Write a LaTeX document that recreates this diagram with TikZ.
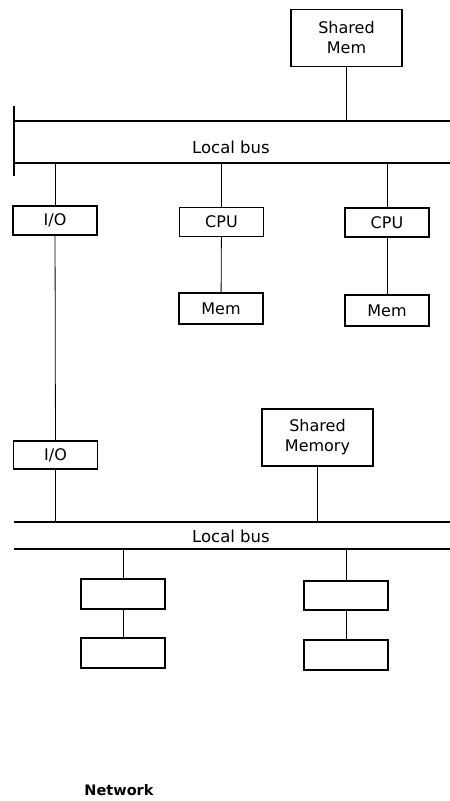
\documentclass[tikz,border=0pt]{standalone}
\usepackage{fontspec}
\setmainfont{DejaVu Sans}
\usetikzlibrary{positioning}

\tikzset{
  unit/.style={draw, line width=1.2pt, inner sep=0pt, minimum width=84pt,
    minimum height=29pt, align=center, font=\fontsize{16}{20}\selectfont},
  bigunit/.style={unit, minimum width=111pt, minimum height=57pt},
  busline/.style={line width=1.3pt},
  link/.style={line width=0.8pt}
}

\begin{document}
\begin{tikzpicture}[x=1pt,y=-1pt]
\useasboundingbox (0,0) rectangle (450,801);

% upper bus
\coordinate (busAt) at (14,121);
\coordinate (busAb) at (14,163);
\draw[busline] (busAt) -- (450,121);
\draw[busline] (busAb) -- (450,163);
\draw[busline] (14,106) -- (14,176);
\node[font=\fontsize{16.5}{18}\selectfont] (busAlbl) at (231,147) {Local bus};

\node[bigunit] (smtop) at (346.5,38) {Shared\\Mem};
\node[unit] (ioA) at (55,220.5) {I/O};
\node[unit] (cpuA) at (221.5,222) {CPU};
\node[unit] (cpuB) at (387,222.5) {CPU};
\node[unit, minimum height=31pt] (memA) at (221,308.5) {Mem};
\node[unit, minimum height=31pt] (memB) at (387,310.5) {Mem};

\draw[link] (smtop.south) -- (smtop.south |- busAt);
\draw[link] (busAb -| ioA) -- (ioA.north);
\draw[link] (busAb -| cpuA) -- (cpuA.north);
\draw[link] (busAb -| cpuB) -- (cpuB.north);
\draw[link] (cpuA) -- (memA);
\draw[link] (cpuB) -- (memB);

% lower bus
\coordinate (busBt) at (14,522);
\coordinate (busBb) at (14,549);
\draw[busline] (busBt) -- (450,522);
\draw[busline] (busBb) -- (450,549);
\node[font=\fontsize{16.5}{18}\selectfont] (busBlbl) at (231,536) {Local bus};

\node[unit, minimum height=28pt] (ioB) at (55.5,455) {I/O};
\node[bigunit] (smlow) at (317.5,437.5) {Shared\\Memory};
\node[unit, minimum height=30pt] (boxA) at (123,594) {};
\node[unit, minimum height=30pt] (boxB) at (123,653) {};
\node[unit] (boxC) at (346,595.5) {};
\node[unit, minimum height=30pt] (boxD) at (346,655) {};

\draw[link] (ioA) -- (ioB);
\draw[link] (ioB.south) -- (ioB.south |- busBt);
\draw[link] (smlow.south) -- (smlow.south |- busBt);
\draw[link] (busBb -| boxA) -- (boxA.north);
\draw[link] (busBb -| boxC) -- (boxC.north);
\draw[link] (boxA) -- (boxB);
\draw[link] (boxC) -- (boxD);

\node[font=\bfseries\fontsize{14.5}{16}\selectfont] (net) at (119,790) {Network};

\end{tikzpicture}
\end{document}
